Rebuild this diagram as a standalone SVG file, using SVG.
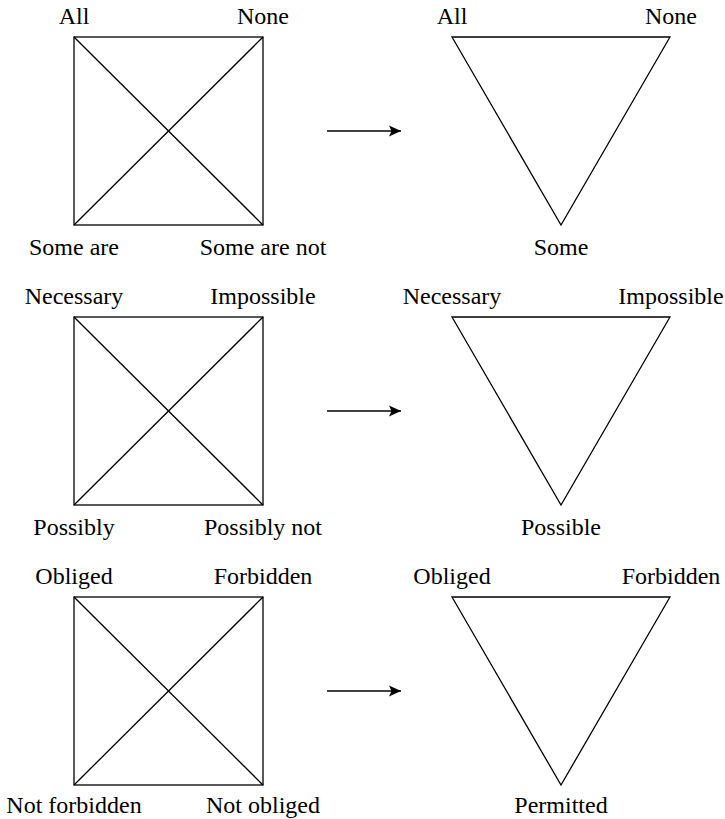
<svg xmlns="http://www.w3.org/2000/svg" width="725" height="819" viewBox="0 0 725 819">
<style>
.s{fill:none;stroke:#000;stroke-width:1.3}
</style>
<defs>
<marker id="ah" markerWidth="14" markerHeight="14" refX="12" refY="7" orient="auto" markerUnits="userSpaceOnUse">
<path d="M0,1.5 L12,7 L0,12.5 L2.5,7 Z" fill="#000"/>
</marker>
</defs>
<rect width="725" height="819" fill="#fff"/>
<g font-family="Liberation Serif, Tinos, Times New Roman, serif" font-size="24" text-anchor="middle" fill="#000">
<g id="square1">
<rect class="s" x="74" y="37" width="189" height="188"/>
<line class="s" x1="74" y1="37" x2="263" y2="225"/>
<line class="s" x1="263" y1="37" x2="74" y2="225"/>
<text x="74" y="24">All</text>
<text x="263" y="24">None</text>
<text x="74" y="255">Some are</text>
<text x="263" y="255">Some are not</text>
</g>
<g id="triangle1">
<polygon class="s" points="452,37 670,37 561,225"/>
<text x="452" y="24">All</text>
<text x="671" y="24">None</text>
<text x="561" y="255">Some</text>
</g>
<g id="square2">
<rect class="s" x="74" y="317" width="189" height="188"/>
<line class="s" x1="74" y1="317" x2="263" y2="505"/>
<line class="s" x1="263" y1="317" x2="74" y2="505"/>
<text x="74" y="304">Necessary</text>
<text x="263" y="304">Impossible</text>
<text x="74" y="535">Possibly</text>
<text x="263" y="535">Possibly not</text>
</g>
<g id="triangle2">
<polygon class="s" points="452,317 670,317 561,505"/>
<text x="452" y="304">Necessary</text>
<text x="671" y="304">Impossible</text>
<text x="561" y="535">Possible</text>
</g>
<g id="square3">
<rect class="s" x="74" y="597" width="189" height="188"/>
<line class="s" x1="74" y1="597" x2="263" y2="785"/>
<line class="s" x1="263" y1="597" x2="74" y2="785"/>
<text x="74" y="584">Obliged</text>
<text x="263" y="584">Forbidden</text>
<text x="74" y="813">Not forbidden</text>
<text x="263" y="813">Not obliged</text>
</g>
<g id="triangle3">
<polygon class="s" points="452,597 670,597 561,785"/>
<text x="452" y="584">Obliged</text>
<text x="671" y="584">Forbidden</text>
<text x="561" y="813">Permitted</text>
</g>
</g>
<g id="connectors">
<line class="s" x1="327" y1="131" x2="401" y2="131" marker-end="url(#ah)"/>
<line class="s" x1="327" y1="411" x2="401" y2="411" marker-end="url(#ah)"/>
<line class="s" x1="327" y1="691" x2="401" y2="691" marker-end="url(#ah)"/>
</g>
</svg>
